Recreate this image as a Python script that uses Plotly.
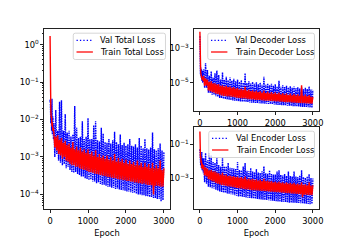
import plotly.graph_objects as go

# ---------------- data ----------------
EPOCHS = [0, 3, 6, 10, 15, 20, 30, 40, 50, 60, 75, 90] + list(range(100, 3001, 25))

VAL_TOTAL = [
    3e-2, 2e-2, 3.5e-2, 1.2e-2, 2.8e-2, 8e-3, 2.5e-2, 5e-3, 3.6e-2, 4e-3, 1.2e-2, 3e-3,
    8e-3, 1.0e-3, 1.8e-2, 1.2e-3,   5e-3, 8e-4, 3e-2, 7e-4,      3.3e-2, 6e-4, 5e-3, 6.5e-4,
    1.4e-2, 5e-4, 4.5e-3, 5.5e-4,   5e-3, 4.5e-4, 3.5e-3, 4e-4,  4e-3, 3.8e-4, 2.3e-2, 4e-4,
    6e-3, 3.5e-4, 3.2e-3, 3.3e-4,   3.5e-3, 3e-4, 9e-3, 3e-4,    3e-3, 2.7e-4, 3.5e-3, 2.6e-4,
    1.1e-2, 2.4e-4, 3e-3, 2.5e-4,   3e-3, 2.2e-4, 7e-3, 2.2e-4,  9e-3, 2e-4, 2.8e-3, 2.1e-4,
    2.6e-3, 1.9e-4, 6e-3, 1.8e-4,   4.2e-3, 1.8e-4, 2.5e-3, 1.7e-4, 2.4e-3, 1.6e-4, 3e-3, 1.6e-4,
    2.3e-3, 1.5e-4, 2.8e-3, 1.5e-4, 4.7e-3, 1.4e-4, 2.5e-3, 1.45e-4, 2.2e-3, 1.35e-4, 4e-3, 1.3e-4,
    2.1e-3, 1.3e-4, 2.4e-3, 1.25e-4, 2e-3, 1.2e-4, 2.2e-3, 1.2e-4,  3e-3, 1.15e-4, 2e-3, 1.1e-4,
    1.9e-3, 1.1e-4, 2.2e-3, 1.05e-4, 1.8e-3, 1e-4, 3.2e-3, 1e-4,    2e-3, 9.5e-5, 1.7e-3, 9.5e-5,
    3e-3, 9e-5, 1.7e-3, 9e-5,       1.6e-3, 8.5e-5, 1.8e-3, 8.5e-5, 4.5e-3, 8e-5, 1.6e-3, 8e-5,
    1.5e-3, 7.5e-5, 1.7e-3, 7.5e-5, 2.3e-3, 6.5e-5, 1.5e-3, 7e-5,
    1.4e-3,
]

TRAIN_TOTAL = [
    1.7, 0.3, 7e-2, 3.5e-2, 2.2e-2, 1.8e-2, 1.1e-2, 1.2e-2, 6.5e-3, 8.5e-3, 5e-3, 6e-3,
    4.5e-3, 1.8e-3, 3.5e-3, 1.5e-3, 3.8e-3, 1.2e-3, 2.9e-3, 1.1e-3, 3.2e-3, 9e-4, 2.4e-3, 1.0e-3,
    2.7e-3, 8e-4, 2.1e-3, 7.5e-4,   2.3e-3, 6.5e-4, 1.8e-3, 6e-4,   2.5e-3, 6e-4, 1.6e-3, 5.5e-4,
    1.9e-3, 5.5e-4, 1.5e-3, 5e-4,   1.8e-3, 4.8e-4, 1.4e-3, 4.6e-4, 1.6e-3, 4.5e-4, 1.3e-3, 4.2e-4,
    1.6e-3, 4.0e-4, 1.2e-3, 3.9e-4, 1.4e-3, 3.8e-4, 1.1e-3, 3.6e-4, 1.5e-3, 3.5e-4, 1.0e-3, 3.4e-4,
    1.2e-3, 3.3e-4, 9.5e-4, 3.2e-4, 1.1e-3, 3.1e-4, 9e-4, 3.0e-4,   1.1e-3, 2.9e-4, 8.5e-4, 2.9e-4,
    1.0e-3, 2.8e-4, 8e-4, 2.7e-4,   1.2e-3, 2.7e-4, 7.5e-4, 2.6e-4, 9.5e-4, 2.5e-4, 7.5e-4, 2.5e-4,
    9e-4, 2.4e-4, 7e-4, 2.4e-4,     8.5e-4, 2.3e-4, 6.5e-4, 2.3e-4, 8e-4, 2.2e-4, 6.5e-4, 2.2e-4,
    7.5e-4, 2.1e-4, 6e-4, 2.1e-4,   8e-4, 2.0e-4, 6e-4, 2.0e-4,     7e-4, 1.9e-4, 5.5e-4, 1.95e-4,
    7e-4, 1.85e-4, 5.5e-4, 1.8e-4,  6.5e-4, 1.8e-4, 5e-4, 1.75e-4,  7e-4, 1.0e-4, 5e-4, 1.7e-4,
    6e-4, 1.7e-4, 5e-4, 1.65e-4,    8e-4, 1.6e-4, 4.5e-4, 1.6e-4,
    5e-4,
]

VAL_DECODER = [
    5e-3, 3e-4, 1e-4, 1.3e-4, 3e-5, 8e-5, 2e-5, 6e-5, 1.3e-5, 5e-5, 1e-5, 4e-5,
    6e-5, 5e-6, 1.35e-4, 5e-6,      5.5e-5, 2.6e-6, 2.5e-5, 2.5e-6, 4.5e-5, 2e-6, 2e-5, 2e-6,
    3.5e-5, 1.6e-6, 5e-5, 1.5e-6,   2.8e-5, 1.3e-6, 1.5e-5, 1.25e-6, 4e-5, 1.15e-6, 1.5e-5, 1.1e-6,
    2.2e-5, 1.05e-6, 1.4e-5, 1.0e-6, 2e-5, 9.5e-7, 1.3e-5, 9.3e-7,  1.7e-5, 8.8e-7, 1.2e-5, 8.6e-7,
    1.5e-5, 8.2e-7, 1.1e-5, 8e-7,   1.4e-5, 7.8e-7, 1e-5, 7.6e-7,   3.5e-5, 7.4e-7, 9.5e-6, 7.3e-7,
    1.2e-5, 7e-7, 9e-6, 6.9e-7,     1.1e-5, 6.8e-7, 8.5e-6, 6.6e-7, 1.05e-5, 6.5e-7, 8e-6, 6.4e-7,
    1e-5, 6.2e-7, 7.5e-6, 6.1e-7,   2.2e-5, 6e-7, 7.5e-6, 5.9e-7,   9e-6, 5.8e-7, 7e-6, 5.7e-7,
    8.5e-6, 5.5e-7, 6.5e-6, 5.4e-7, 8e-6, 5.2e-7, 6e-6, 5.1e-7,     1.3e-5, 5e-7, 5.8e-6, 4.9e-7,
    7e-6, 4.8e-7, 5.5e-6, 4.7e-7,   6.5e-6, 4.6e-7, 5.2e-6, 4.5e-7, 6.2e-6, 4.4e-7, 5e-6, 4.3e-7,
    6e-6, 4.2e-7, 4.8e-6, 4.1e-7,   5.5e-6, 4.1e-7, 4.5e-6, 4e-7,   5.2e-6, 3.9e-7, 4.3e-6, 3.8e-7,
    5e-6, 3.8e-7, 4.2e-6, 3.7e-7,   6e-6, 3.6e-7, 4e-6, 3.5e-7,
    3.8e-6,
]

TRAIN_DECODER = [
    9e-3, 5e-4, 1.2e-4, 1e-4, 6e-5, 4e-5, 3e-5, 2.2e-5, 3e-5, 1.5e-5, 2.2e-5, 1.2e-5,
    2.5e-5, 6.5e-6, 1.8e-5, 7e-6,   1.5e-5, 3.5e-6, 1.1e-5, 3.2e-6, 1.2e-5, 2.8e-6, 9e-6, 2.6e-6,
    9e-6, 2.3e-6, 8e-6, 2.2e-6,     8e-6, 1.9e-6, 6.5e-6, 1.8e-6,   7e-6, 1.7e-6, 6e-6, 1.7e-6,
    6.5e-6, 1.6e-6, 5.5e-6, 1.55e-6, 6e-6, 1.5e-6, 5e-6, 1.45e-6,   5.5e-6, 1.4e-6, 4.5e-6, 1.35e-6,
    5e-6, 1.3e-6, 4e-6, 1.25e-6,    4.5e-6, 1.2e-6, 3.8e-6, 1.2e-6, 6e-6, 1.15e-6, 3.5e-6, 1.1e-6,
    4e-6, 1.1e-6, 3.2e-6, 1.05e-6,  3.6e-6, 1.05e-6, 3e-6, 1.0e-6,  3.4e-6, 1.0e-6, 2.8e-6, 9.8e-7,
    3.2e-6, 9.5e-7, 2.6e-6, 9.3e-7, 3.5e-6, 9e-7, 2.5e-6, 9e-7,     3e-6, 8.8e-7, 2.4e-6, 8.6e-7,
    2.8e-6, 8.5e-7, 2.3e-6, 8.3e-7, 2.7e-6, 8.1e-7, 2.2e-6, 8e-7,   2.6e-6, 7.8e-7, 2.1e-6, 7.7e-7,
    2.5e-6, 7.5e-7, 2e-6, 7.4e-7,   2.4e-6, 7.3e-7, 1.9e-6, 7.2e-7, 2.3e-6, 7e-7, 1.85e-6, 6.9e-7,
    2.2e-6, 6.8e-7, 1.8e-6, 6.7e-7, 2.1e-6, 6.6e-7, 1.7e-6, 6.5e-7, 7e-6, 6.4e-7, 1.7e-6, 6.3e-7,
    2e-6, 6.2e-7, 1.6e-6, 6.1e-7,   1.9e-6, 6e-7, 1.55e-6, 5.9e-7,
    1.5e-6,
]

VAL_ENCODER = [
    5e-2, 3e-2, 3.5e-2, 1e-2, 3e-2, 6e-3, 2.5e-2, 4e-3, 3.5e-2, 3e-3, 1.5e-2, 2e-3,
    1.5e-2, 6e-4, 3e-2, 5e-4,       1.2e-2, 3.3e-4, 2.9e-2, 3.1e-4, 2.2e-2, 2.7e-4, 9e-3, 2.6e-4,
    8e-3, 2.2e-4, 1.5e-2, 2e-4,     6e-3, 1.75e-4, 5e-3, 1.65e-4,   1.6e-2, 1.5e-4, 5e-3, 1.45e-4,
    5e-3, 1.35e-4, 8e-3, 1.3e-4,    4.2e-3, 1.2e-4, 4e-3, 1.15e-4,  3.8e-3, 1.05e-4, 3.6e-3, 1e-4,
    9e-3, 9e-5, 3.2e-3, 8.8e-5,     3e-3, 8.4e-5, 5e-3, 8.2e-5,     8e-3, 7.8e-5, 2.8e-3, 7.6e-5,
    2.6e-3, 7.2e-5, 4e-3, 7e-5,     2.5e-3, 6.8e-5, 2.3e-3, 6.6e-5, 3.5e-3, 6.4e-5, 2.2e-3, 6.2e-5,
    2.1e-3, 6e-5, 2.6e-3, 5.8e-5,   5e-3, 5.6e-5, 2e-3, 5.5e-5,     1.9e-3, 5.3e-5, 3e-3, 5.2e-5,
    1.8e-3, 5e-5, 1.7e-3, 4.9e-5,   1.7e-3, 4.6e-5, 2.5e-3, 4.5e-5, 3e-3, 4.4e-5, 1.6e-3, 4.3e-5,
    1.5e-3, 4.2e-5, 1.8e-3, 4.1e-5, 1.4e-3, 4e-5, 2.5e-3, 3.9e-5,   1.4e-3, 3.9e-5, 1.3e-3, 3.8e-5,
    2.5e-3, 3.8e-5, 1.3e-3, 3.7e-5, 1.2e-3, 3.7e-5, 1.5e-3, 3.6e-5, 3e-3, 3.5e-5, 1.2e-3, 3.4e-5,
    1.1e-3, 3.4e-5, 1.3e-3, 3.3e-5, 1.8e-3, 3.2e-5, 1.05e-3, 3.3e-5,
    1e-3,
]

TRAIN_ENCODER = [
    0.55, 8e-2, 3.5e-2, 3e-2, 1.5e-2, 2e-2, 8e-3, 1.1e-2, 4e-3, 7.5e-3, 3.5e-3, 6e-3,
    6e-3, 1.5e-3, 4.5e-3, 1.3e-3,   3.8e-3, 9e-4, 3e-3, 8e-4,       3.2e-3, 7e-4, 2.6e-3, 6.5e-4,
    2.6e-3, 5.5e-4, 2.2e-3, 5e-4,   2.0e-3, 4.5e-4, 1.7e-3, 4.2e-4, 2.2e-3, 4e-4, 1.5e-3, 3.8e-4,
    1.7e-3, 3.6e-4, 1.4e-3, 3.4e-4, 1.5e-3, 3.3e-4, 1.3e-3, 3.1e-4, 1.4e-3, 3e-4, 1.2e-3, 2.8e-4,
    1.3e-3, 2.7e-4, 1.1e-3, 2.6e-4, 1.2e-3, 2.5e-4, 1e-3, 2.4e-4,   1.3e-3, 2.3e-4, 9e-4, 2.3e-4,
    1.0e-3, 2.2e-4, 8.5e-4, 2.1e-4, 9.5e-4, 2.1e-4, 8e-4, 2e-4,     9e-4, 2e-4, 7.5e-4, 1.95e-4,
    8.5e-4, 1.9e-4, 7e-4, 1.85e-4,  9.5e-4, 1.8e-4, 7e-4, 1.8e-4,   7.5e-4, 1.75e-4, 6.5e-4, 1.7e-4,
    7e-4, 1.7e-4, 6e-4, 1.65e-4,    6.5e-4, 1.6e-4, 5.8e-4, 1.6e-4, 6.5e-4, 1.55e-4, 5.5e-4, 1.5e-4,
    6e-4, 1.5e-4, 5.2e-4, 1.45e-4,  6e-4, 1.4e-4, 5e-4, 1.4e-4,     5.5e-4, 1.35e-4, 4.8e-4, 1.3e-4,
    5.5e-4, 1.3e-4, 4.6e-4, 1.25e-4, 5e-4, 1.25e-4, 4.4e-4, 1.2e-4, 6e-4, 8e-5, 4.2e-4, 1.15e-4,
    4.6e-4, 1.12e-4, 4e-4, 1.1e-4,  6e-4, 1.08e-4, 3.8e-4, 1.05e-4,
    4e-4,
]

PANELS = [
    # (val series, train series, val label, train label, axis suffix)
    (VAL_TOTAL, TRAIN_TOTAL, "Val Total Loss", "Train Total Loss", ""),
    (VAL_DECODER, TRAIN_DECODER, "Val Decoder Loss", "Train Decoder Loss", "2"),
    (VAL_ENCODER, TRAIN_ENCODER, "Val Encoder Loss", "Train Encoder Loss", "3"),
]

# ---------------- figure ----------------
W, H = 360, 240
FONT = "DejaVu Sans"
FS = 8.3
BLUE = "#0000ff"
RED = "#ff0000"
DOT_TRACE = "1.6px,0.8px"
DOT_LEG = "1.3px,2.1px"


def px(x):
    return x / W


def py(y):
    return 1 - y / H


fig = go.Figure()
for val, train, vlab, tlab, sfx in PANELS:
    xa = "x" + sfx
    ya = "y" + sfx
    fig.add_trace(go.Scatter(x=EPOCHS, y=val, mode="lines", name=vlab, xaxis=xa, yaxis=ya,
                             line=dict(color=BLUE, width=1.4, dash=DOT_TRACE), showlegend=False))
    fig.add_trace(go.Scatter(x=EPOCHS, y=train, mode="lines", name=tlab, xaxis=xa, yaxis=ya,
                             line=dict(color=RED, width=1.4), showlegend=False))

axis_common = dict(showline=True, mirror=True, linecolor="#222", linewidth=0.8,
                   ticks="outside", ticklen=3, tickwidth=0.7, tickcolor="#222",
                   showgrid=False, zeroline=False,
                   tickfont=dict(family=FONT, size=FS, color="black"))

x_ticks = [0, 1000, 2000, 3000]
x_common = dict(axis_common, range=[-150, 3150], tickvals=x_ticks,
                ticktext=[str(t) for t in x_ticks], ticklabelstandoff=1)


def log_ticks(exps):
    return dict(tickvals=[10.0 ** e for e in exps],
                ticktext=["10<sup>\u2212%d</sup>" % -e if e < 0 else "10<sup>%d</sup>" % e for e in exps])


left_dom_x = [px(45), px(172)]
right_dom_x = [px(197), px(323)]

minor_left = dict(ticks="outside", ticklen=1.8, tickwidth=0.6, tickcolor="#222",
                  tickvals=[m * 10.0 ** e for e in range(-5, 1) for m in range(2, 10)])

fig.update_layout(
    width=W, height=H, margin=dict(l=0, r=0, t=0, b=0),
    paper_bgcolor="white", plot_bgcolor="white",
    font=dict(family=FONT, size=FS, color="black"),
    showlegend=False,
    xaxis=dict(x_common, domain=left_dom_x, anchor="y",
               title=dict(text="Epoch", standoff=5, font=dict(family=FONT, size=FS))),
    yaxis=dict(axis_common, type="log", domain=[py(209), py(29)], anchor="x",
               range=[-4.39, 0.42], minor=minor_left, **log_ticks([-4, -3, -2, -1, 0])),
    xaxis2=dict(x_common, domain=right_dom_x, anchor="y2"),
    yaxis2=dict(axis_common, type="log", domain=[py(111), py(29)], anchor="x2",
                range=[-6.65, -1.88], **log_ticks([-5, -3])),
    xaxis3=dict(x_common, domain=right_dom_x, anchor="y3",
                title=dict(text="Epoch", standoff=5, font=dict(family=FONT, size=FS))),
    yaxis3=dict(axis_common, type="log", domain=[py(209), py(127)], anchor="x3",
                range=[-4.78, 0.0], **log_ticks([-3, -1])),
)

# ---------------- legends (matplotlib-style boxes) ----------------
def rounded_box(x0, y0, x1, y1, r=2.0):
    rx, ry = r / W, r / H
    X0, X1, Y0, Y1 = px(x0), px(x1), py(y0), py(y1)
    return (f"M{X0 + rx},{Y0} L{X1 - rx},{Y0} Q{X1},{Y0} {X1},{Y0 - ry} "
            f"L{X1},{Y1 + ry} Q{X1},{Y1} {X1 - rx},{Y1} L{X0 + rx},{Y1} "
            f"Q{X0},{Y1} {X0},{Y1 + ry} L{X0},{Y0 - ry} Q{X0},{Y0} {X0 + rx},{Y0} Z")


LEGENDS = [
    # box x0, y0, x1, y1, handle x0, text x, row1 y, row2 y
    (74.3, 33.2, 167.8, 59.5, 77.6, 100.8, 40.3, 52.0),
    (210.7, 33.2, 318.9, 59.5, 214.0, 237.2, 40.3, 52.0),
    (211.7, 131.2, 318.9, 157.5, 215.0, 238.2, 138.3, 150.0),
]

for (val, train, vlab, tlab, sfx), (bx0, by0, bx1, by1, hx, tx, r1, r2) in zip(PANELS, LEGENDS):
    fig.add_shape(type="path", path=rounded_box(bx0, by0, bx1, by1), xref="paper", yref="paper",
                  line=dict(color="#cccccc", width=0.8), fillcolor="rgba(255,255,255,0.8)",
                  layer="above")
    fig.add_shape(type="line", xref="paper", yref="paper", x0=px(hx), x1=px(hx + 16.6),
                  y0=py(r1), y1=py(r1), line=dict(color=BLUE, width=1.25, dash=DOT_LEG), layer="above")
    fig.add_shape(type="line", xref="paper", yref="paper", x0=px(hx), x1=px(hx + 16.6),
                  y0=py(r2), y1=py(r2), line=dict(color=RED, width=1.25), layer="above")
    for lab, ry in ((vlab, r1), (tlab, r2)):
        fig.add_annotation(text=lab, x=px(tx), y=py(ry), xref="paper", yref="paper",
                           xanchor="left", yanchor="middle", showarrow=False, borderpad=0,
                           font=dict(family=FONT, size=FS, color="black"))

fig.write_html("out.html", config={"displayModeBar": False},
               post_script="document.body.style.margin='0';")
